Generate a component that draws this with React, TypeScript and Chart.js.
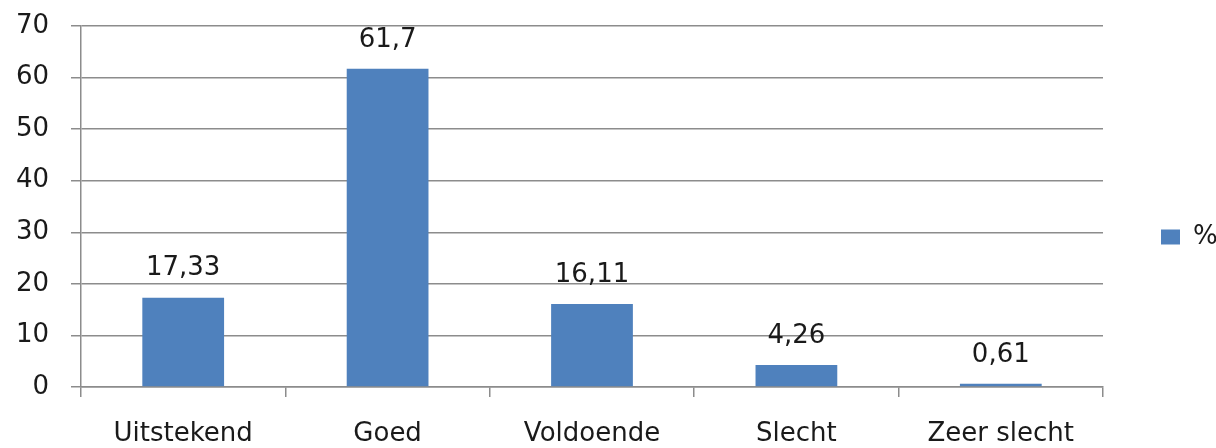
import React, { useEffect, useRef } from "react";
import { Chart, registerables } from "chart.js";

Chart.register(...registerables);

const categories = ["Uitstekend", "Goed", "Voldoende", "Slecht", "Zeer slecht"];
const percentValues = [17.33, 61.7, 16.11, 4.26, 0.61];
const valueLabels = ["17,33", "61,7", "16,11", "4,26", "0,61"];
const seriesName = "%";

const FONT = "'DejaVu Sans', sans-serif";
const FS = 26;
const TEXT = "#1a1a1a";
const GRID = "#8c8c8c";
const BAR = "#4f81bd";

const valueLabelPlugin = {
  id: "valueLabels",
  afterDatasetsDraw(chart: any) {
    const ctx = chart.ctx;
    const meta = chart.getDatasetMeta(0);
    ctx.save();
    ctx.font = `${FS}px ${FONT}`;
    ctx.fillStyle = TEXT;
    ctx.textAlign = "center";
    ctx.textBaseline = "middle";
    meta.data.forEach((el: any, i: number) => {
      ctx.fillText(valueLabels[i], el.x, el.y - 29);
    });
    ctx.restore();
  },
};

export default function App() {
  const ref = useRef<HTMLCanvasElement | null>(null);
  useEffect(() => {
    if (!ref.current) return;
    const chart = new Chart(ref.current, {
      type: "bar",
      data: {
        labels: categories,
        datasets: [
          {
            label: seriesName,
            data: percentValues,
            backgroundColor: BAR,
            borderWidth: 0,
            categoryPercentage: 0.4,
            barPercentage: 1,
          },
        ],
      },
      options: {
        animation: false,
        responsive: false,
        devicePixelRatio: 1,
        layout: { padding: { top: 26, right: 0, left: 0, bottom: 0 } },
        plugins: {
          tooltip: { enabled: false },
          legend: {
            position: "right",
            maxWidth: 55,
            labels: {
              boxWidth: 19,
              boxHeight: 15,
              padding: 0,
              color: TEXT,
              font: { family: FONT, size: FS },
            },
          },
        },
        scales: {
          x: {
            grid: {
              drawOnChartArea: false,
              drawTicks: true,
              tickLength: 10,
              color: GRID,
              lineWidth: 1.5,
            },
            border: { color: GRID, width: 1.5 },
            ticks: {
              color: TEXT,
              font: { family: FONT, size: FS },
              padding: 22,
              maxRotation: 0,
            },
            afterFit: (s: any) => {
              s.height = 61;
              s.paddingLeft = 0;
              s.paddingRight = 0;
            },
          },
          y: {
            min: 0,
            max: 70,
            grid: {
              color: GRID,
              lineWidth: 1.5,
              tickLength: 10,
            },
            border: { color: GRID, width: 1.5 },
            ticks: {
              stepSize: 10,
              color: TEXT,
              font: { family: FONT, size: FS },
              padding: 22,
            },
            afterFit: (s: any) => {
              s.width = 81;
              s.paddingTop = 0;
              s.paddingBottom = 0;
            },
          },
          gap: {
            type: "linear",
            position: "right",
            display: true,
            grid: { display: false, drawTicks: false },
            border: { display: false },
            ticks: { display: false },
            afterFit: (s: any) => {
              s.width = 58;
              s.paddingTop = 0;
              s.paddingBottom = 0;
            },
          },
        },
      },
      plugins: [valueLabelPlugin],
    });
    return () => chart.destroy();
  }, []);
  return (
    <div style={{ position: "absolute", left: 0, top: 0, width: 1216, height: 448, background: "#fff" }}>
      <canvas ref={ref} width={1216} height={448} style={{ width: 1216, height: 448 }} />
    </div>
  );
}
